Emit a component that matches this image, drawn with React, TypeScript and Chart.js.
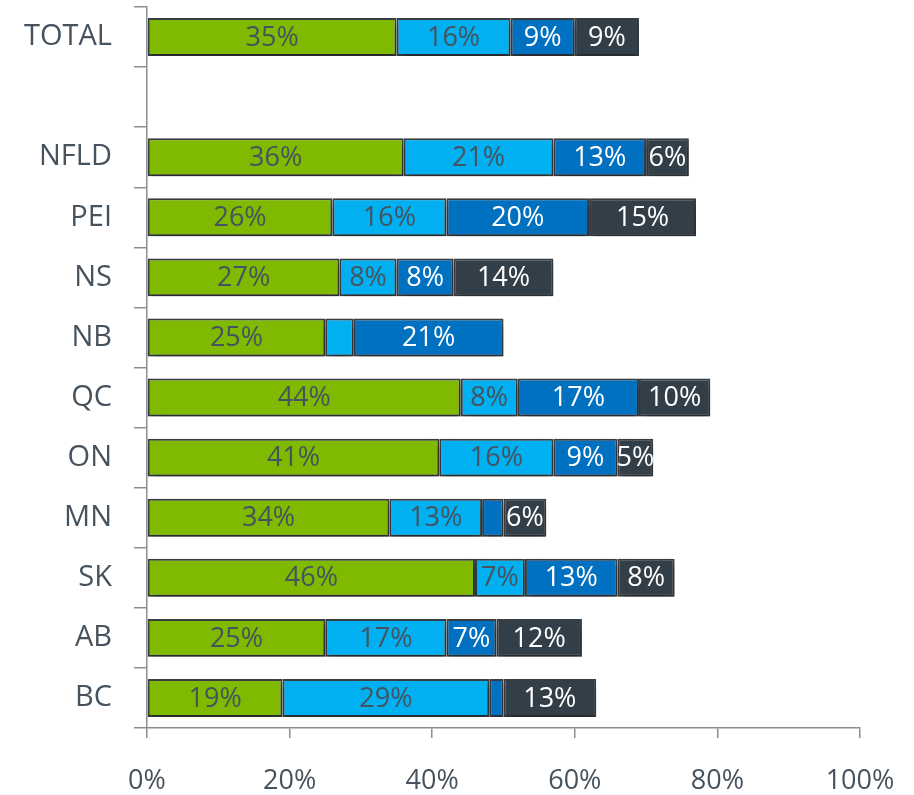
import React, { useEffect, useRef } from "react";
import { Chart, registerables } from "chart.js";

Chart.register(...registerables);

const categories = ["TOTAL", "", "NFLD", "PEI", "NS", "NB", "QC", "ON", "MN", "SK", "AB", "BC"];
const greenValues = [35, null, 36, 26, 27, 25, 44, 41, 34, 46, 25, 19];
const lightBlueValues = [16, null, 21, 16, 8, 4, 8, 16, 13, 7, 17, 29];
const darkBlueValues = [9, null, 13, 20, 8, 21, 17, 9, 3, 13, 7, 2];
const grayValues = [9, null, 6, 15, 14, null, 10, 5, 6, 8, 12, 13];
const xTicks = [0, 20, 40, 60, 80, 100];

const FONT = "'Open Sans', 'DejaVu Sans', sans-serif";
const TEXT = "#46535E";

const shadowPlugin = {
  id: "barShadow",
  beforeDatasetsDraw(chart: any) {
    const ctx = chart.ctx;
    ctx.save();
    ctx.shadowColor = "rgba(0,0,0,0.4)";
    ctx.shadowBlur = 8;
    ctx.shadowOffsetX = 1;
    ctx.shadowOffsetY = 5;
  },
  afterDatasetsDraw(chart: any) {
    chart.ctx.restore();
  },
};

const labelPlugin = {
  id: "segLabels",
  afterDatasetsDraw(chart: any) {
    const ctx = chart.ctx;
    ctx.save();
    ctx.textAlign = "center";
    ctx.textBaseline = "middle";
    chart.data.datasets.forEach((ds: any, di: number) => {
      const meta = chart.getDatasetMeta(di);
      meta.data.forEach((el: any, i: number) => {
        const v = ds.data[i];
        if (v == null || v < 5) return;
        const x = (el.x + el.base) / 2;
        ctx.fillStyle = ds.labelColor;
        ctx.font = `normal 27px ${FONT}`;
        ctx.fillText(v + "%", x, el.y + 1);
      });
    });
    ctx.restore();
  },
};

export default function App() {
  const ref = useRef<HTMLCanvasElement>(null);
  useEffect(() => {
    if (!ref.current) return;
    const common = {
      borderColor: "#3A3F44",
      borderWidth: 2,
      borderSkipped: false,
      barPercentage: 0.63,
      categoryPercentage: 1,
    };
    const chart = new Chart(ref.current, {
      type: "bar",
      data: {
        labels: categories,
        datasets: [
          { ...common, label: "Green", data: greenValues, backgroundColor: "#7FBA00", labelColor: TEXT } as any,
          { ...common, label: "Light blue", data: lightBlueValues, backgroundColor: "#00B0F0", labelColor: TEXT } as any,
          { ...common, label: "Dark blue", data: darkBlueValues, backgroundColor: "#0070C0", labelColor: "#FFFFFF" } as any,
          { ...common, label: "Gray", data: grayValues, backgroundColor: "#333F48", labelColor: "#FFFFFF" } as any,
        ],
      },
      options: {
        indexAxis: "y",
        responsive: false,
        animation: false,
        layout: { padding: { top: 7, right: 54, left: 0, bottom: 0 } },
        plugins: { legend: { display: false }, tooltip: { enabled: false } },
        scales: {
          x: {
            stacked: true,
            min: 0,
            max: 100,
            afterBuildTicks: (scale: any) => {
              scale.ticks = xTicks.map((v) => ({ value: v }));
            },
            afterFit: (scale: any) => {
              scale.height = 67;
              scale.paddingLeft = 0;
              scale.paddingRight = 0;
            },
            ticks: {
              callback: (v: any) => v + "%",
              font: { family: FONT, size: 27 },
              color: TEXT,
              padding: 27,
              maxRotation: 0,
            },
            grid: { drawOnChartArea: false, drawTicks: true, tickLength: 10, color: "#8A8F94", lineWidth: 1.5 },
            border: { color: "#8A8F94", width: 1.5 },
          },
          y: {
            stacked: true,
            afterFit: (scale: any) => {
              scale.width = 147;
              scale.paddingTop = 0;
              scale.paddingBottom = 0;
            },
            ticks: {
              font: { family: FONT, size: 29 },
              color: TEXT,
              padding: 22,
            },
            grid: { offset: true, drawOnChartArea: false, drawTicks: true, tickLength: 13, color: "#8A8F94", lineWidth: 1.5 },
            border: { color: "#8A8F94", width: 1.5 },
          },
        },
      } as any,
      plugins: [shadowPlugin, labelPlugin],
    });
    return () => chart.destroy();
  }, []);
  return (
    <div style={{ position: "absolute", left: 0, top: 0, width: 914, height: 795, background: "#fff" }}>
      <canvas ref={ref} width={914} height={795} style={{ width: 914, height: 795, display: "block" }} />
    </div>
  );
}
